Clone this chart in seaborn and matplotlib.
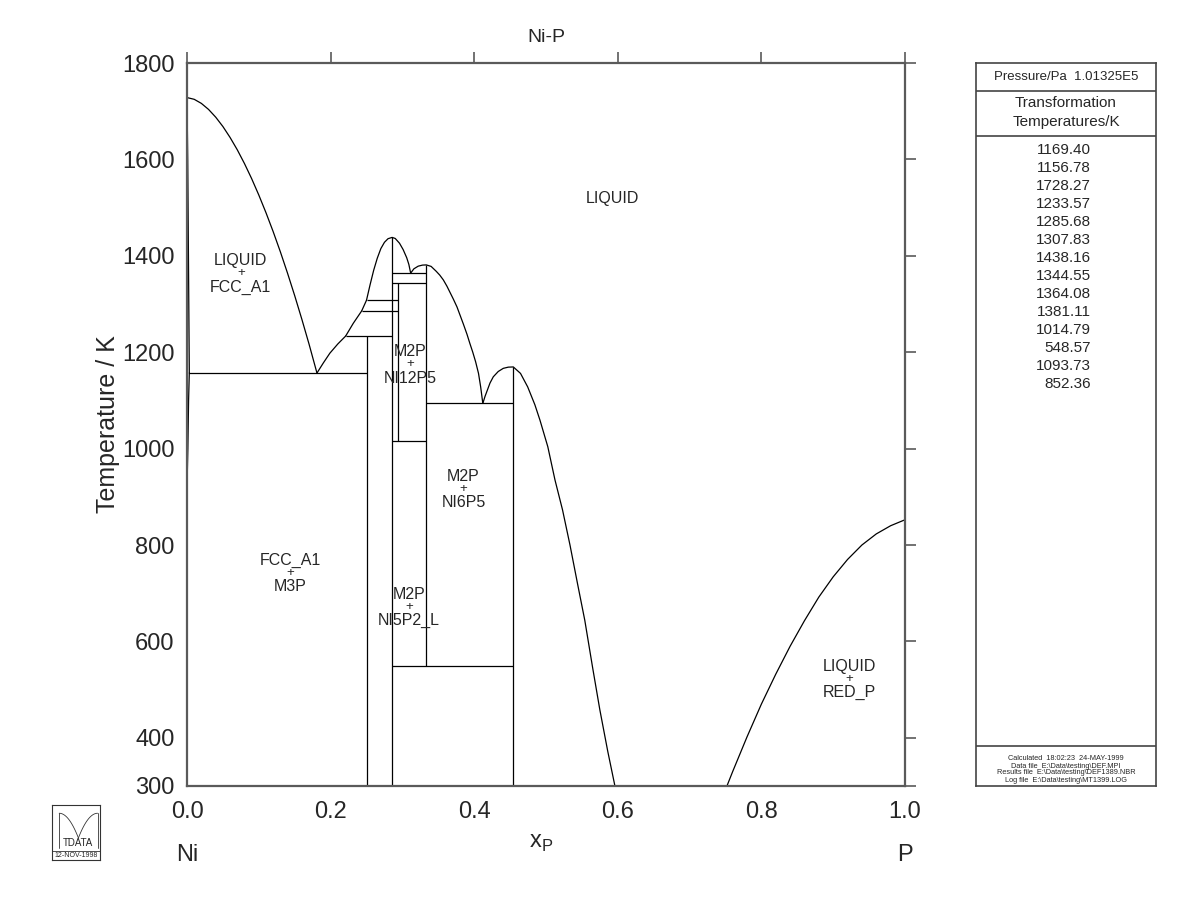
import numpy as np
import pandas as pd
import matplotlib
matplotlib.use("Agg")
import matplotlib.pyplot as plt
import seaborn as sns

sns.set_theme(style="white")
plt.rcParams["font.family"] = ["Liberation Sans", "DejaVu Sans"]

# ---------------- data ----------------
title = "Ni-P"
x_label = "x$_\\mathregular{P}$"
y_label = "Temperature / K"
x_ticks = [0.0, 0.2, 0.4, 0.6, 0.8, 1.0]
y_ticks = [300, 400, 600, 800, 1000, 1200, 1400, 1600, 1800]

# liquidus / solidus curves (x_P, T/K)
ni_liq_x = [0.0, 0.01, 0.02, 0.03, 0.04, 0.05, 0.06, 0.07, 0.08, 0.09, 0.10,
            0.11, 0.12, 0.13, 0.14, 0.15, 0.16, 0.17, 0.181]
ni_liq_T = [1728.27, 1724.7, 1716.2, 1703.7, 1687.6, 1668.2, 1645.5, 1620.0,
            1591.5, 1560.2, 1526.1, 1489.4, 1450.2, 1408.4, 1364.0, 1317.3,
            1268.1, 1216.7, 1156.78]
fcc_sol_x = [0.0, 0.001, 0.002, 0.0032]
fcc_sol_T = [1728.27, 1600, 1400, 1156.78]
fcc_solv_x = [0.0032, 0.0022, 0.0012, 0.0]
fcc_solv_T = [1156.78, 1100, 1000, 920]
liq_a_x = [0.181, 0.19, 0.199, 0.21, 0.221]
liq_a_T = [1156.78, 1178, 1198, 1217, 1233.57]
liq_b_x = [0.221, 0.2316, 0.2433]
liq_b_T = [1233.57, 1260, 1285.68]
liq_c_x = [0.2433, 0.250]
liq_c_T = [1285.68, 1307.83]
ni5p2_x = [0.250, 0.255, 0.260, 0.265, 0.270, 0.275, 0.280, 0.2857,
           0.290, 0.296, 0.301, 0.306, 0.309, 0.3115]
ni5p2_T = [1307.83, 1340, 1370, 1395, 1415, 1428, 1435.5, 1438.16,
           1436, 1426, 1413, 1396, 1382, 1364.08]
ni2p_x = [0.3115, 0.316, 0.322, 0.328, 0.3333, 0.340, 0.347, 0.352, 0.357,
          0.362, 0.366, 0.371, 0.376, 0.381, 0.385, 0.390, 0.394, 0.398,
          0.402, 0.406, 0.409, 0.412]
ni2p_T = [1364.08, 1373, 1378.5, 1380.7, 1381.11, 1378, 1368, 1360, 1350,
          1337, 1325, 1310, 1294, 1274, 1258, 1237, 1218, 1200, 1180, 1156,
          1128, 1093.73]
ni6p5_x = [0.412, 0.415, 0.418, 0.422, 0.4266, 0.4335, 0.4405, 0.4475,
           0.4545, 0.4645, 0.4745, 0.4845, 0.4916, 0.5025, 0.5125, 0.523,
           0.5334, 0.544, 0.554, 0.565, 0.575, 0.586, 0.596]
ni6p5_T = [1093.73, 1108, 1120, 1136, 1149, 1160, 1166.5, 1169, 1169.40,
           1156, 1128, 1091, 1059, 1004, 935, 873, 800, 719, 644, 545,
           458, 372, 300]
p_liq_x = [0.752, 0.76, 0.77, 0.78, 0.79, 0.80, 0.82, 0.84, 0.86, 0.88,
           0.90, 0.92, 0.94, 0.96, 0.98, 1.0]
p_liq_T = [300, 330, 366, 402, 436, 470, 532, 590, 643, 692, 734, 770,
           800, 823, 840, 852.36]

# invariant (horizontal) lines: temperature, x from, x to
inv_T = [1156.78, 1233.57, 1285.68, 1307.83, 1344.55, 1364.08, 1014.79, 1093.73, 548.57]
inv_x0 = [0.0032, 0.221, 0.2433, 0.250, 0.2857, 0.2857, 0.2857, 0.3333, 0.2857]
inv_x1 = [0.250, 0.2857, 0.294, 0.294, 0.3333, 0.3333, 0.3333, 0.4545, 0.4545]

# compound (vertical) lines: x, T from, T to
cmp_x = [0.250, 0.2857, 0.294, 0.3333, 0.4545]
cmp_T0 = [300, 300, 1014.79, 548.57, 300]
cmp_T1 = [1233.57, 1438.16, 1344.55, 1381.11, 1169.40]

# phase-field labels
label_top = ["LIQUID", "LIQUID", "FCC_A1", "M2P", "M2P", "M2P", "LIQUID"]
label_bot = ["", "FCC_A1", "M3P", "NI12P5", "NI6P5", "NI5P2_L", "RED_P"]
label_x = [0.592, 0.075, 0.1435, 0.3106, 0.385, 0.309, 0.923]
label_T = [1518, 1364, 742, 1175, 916, 672, 522]

# side panel
pressure_text = "Pressure/Pa  1.01325E5"
panel_header = ["Transformation", "Temperatures/K"]
trans_temps = ["1169.40", "1156.78", "1728.27", "1233.57", "1285.68", "1307.83",
               "1438.16", "1344.55", "1364.08", "1381.11", "1014.79", "548.57",
               "1093.73", "852.36"]
footer_lines = ["Calculated  18:02:23  24-MAY-1999",
                "Data file  E:\\Data\\testing\\DEF.MPI",
                "Results file  E:\\Data\\testing\\DEF1389.NBR",
                "Log file  E:\\Data\\testing\\MT1399.LOG"]
logo_date = "12-NOV-1998"

# ---------------- figure ----------------
W, H = 1200, 923
fig = plt.figure(figsize=(12, 9.23), dpi=100)
fig.patch.set_facecolor("white")


def box(x0, y0, x1, y1):
    return [x0 / W, 1 - y1 / H, (x1 - x0) / W, (y1 - y0) / H]


ax = fig.add_axes(box(187, 63, 905, 786))

segments = [(ni_liq_x, ni_liq_T), (fcc_sol_x, fcc_sol_T), (fcc_solv_x, fcc_solv_T),
            (liq_a_x, liq_a_T), (liq_b_x, liq_b_T), (liq_c_x, liq_c_T),
            (ni5p2_x, ni5p2_T), (ni2p_x, ni2p_T), (ni6p5_x, ni6p5_T),
            (p_liq_x, p_liq_T)]
frames = []
for i, (xs, ts) in enumerate(segments):
    frames.append(pd.DataFrame({"x": xs, "T": ts, "seg": i}))
curves = pd.concat(frames, ignore_index=True)
sns.lineplot(data=curves, x="x", y="T", units="seg", estimator=None, sort=False,
             color="black", linewidth=0.9, ax=ax, legend=False)

ax.hlines(inv_T, inv_x0, inv_x1, color="black", linewidth=0.9)
ax.vlines(cmp_x, cmp_T0, cmp_T1, color="black", linewidth=0.9)

ax.set_xlim(0, 1)
ax.set_ylim(300, 1800)
ax.set_xticks(x_ticks)
ax.set_xticklabels([f"{v:.1f}" for v in x_ticks])
ax.set_yticks(y_ticks)
ax.set_yticklabels([str(v) for v in y_ticks])
spine_col = "#5a5a5a"
for s in ax.spines.values():
    s.set_visible(True)
    s.set_color(spine_col)
    s.set_linewidth(1.6)
ax.tick_params(axis="both", which="both", direction="out", length=8, width=1.2,
               color=spine_col, labelsize=17, top=True, right=True,
               labeltop=False, labelright=False)
ax.tick_params(axis="y", pad=1)
ax.tick_params(axis="x", pad=3)
ax.set_ylabel(y_label, fontsize=18, labelpad=1)
ax.set_xlabel("")
ax.set_title(title, fontsize=14, pad=15)

for top, bot, lx, lt in zip(label_top, label_bot, label_x, label_T):
    if bot:
        ax.annotate(top, (lx, lt), xytext=(0, 9), textcoords="offset points",
                    ha="center", va="center", fontsize=11.5)
        ax.annotate("+", (lx, lt), ha="center", va="center", fontsize=9.5)
        ax.annotate(bot, (lx, lt), xytext=(0, -10), textcoords="offset points",
                    ha="center", va="center", fontsize=11.5)
    else:
        ax.annotate(top, (lx, lt), ha="center", va="center", fontsize=11.5)

fig.text(541 / W, 1 - 843 / H, x_label, ha="center", va="center", fontsize=17)
fig.text(187 / W, 1 - 855 / H, "Ni", ha="center", va="center", fontsize=17)
fig.text(905 / W, 1 - 855 / H, "P", ha="center", va="center", fontsize=17)

# ---------------- side panel ----------------
pan = fig.add_axes(box(976, 63, 1156, 786))
pan.set_xlim(0, 1)
pan.set_ylim(0, 1)
pan.set_xticks([])
pan.set_yticks([])
for s in pan.spines.values():
    s.set_visible(True)
    s.set_color("#444444")
    s.set_linewidth(1.2)
ph = 723.0


def py(y):
    return 1 - (y - 63) / ph


for yy in (90.5, 136, 746):
    pan.axhline(py(yy), color="#444444", linewidth=1.2)
pan.text(0.5, py(77), pressure_text, ha="center", va="center", fontsize=9.5)
pan.text(0.5, py(103), panel_header[0], ha="center", va="center", fontsize=11)
pan.text(0.5, py(122), panel_header[1], ha="center", va="center", fontsize=11)
for i, t in enumerate(trans_temps):
    pan.text((1091 - 976) / 180, py(149.5 + 18.0 * i), t, ha="right", va="center",
             fontsize=11)
for i, t in enumerate(footer_lines):
    pan.text(0.5, py(759 + 7 * i), t, ha="center", va="center", fontsize=5.3)

# ---------------- logo ----------------
lg = fig.add_axes(box(52, 805, 100, 860))
lg.set_xlim(0, 1)
lg.set_ylim(0, 1)
lg.set_xticks([])
lg.set_yticks([])
for s in lg.spines.values():
    s.set_visible(True)
    s.set_color("#333333")
    s.set_linewidth(0.8)
lg.axhline(0.17, color="#333333", linewidth=0.6)
lg.text(0.5, 0.08, logo_date, ha="center", va="center", fontsize=5)
lg.text(0.55, 0.3, "TDATA", ha="center", va="center", fontsize=7)
lg.plot([0.15, 0.15], [0.22, 0.85], color="#333333", linewidth=0.6)
tt = np.linspace(0, 1, 30)
lg.plot(0.15 + 0.4 * tt, 0.85 - 0.45 * tt ** 2, color="#333333", linewidth=0.6)
lg.plot(0.55 + 0.4 * tt, 0.4 + 0.45 * (tt * (2 - tt)), color="#333333", linewidth=0.6)
lg.plot([0.95, 0.95], [0.22, 0.85], color="#333333", linewidth=0.6)

fig.savefig("out.png", dpi=100, facecolor="white")
